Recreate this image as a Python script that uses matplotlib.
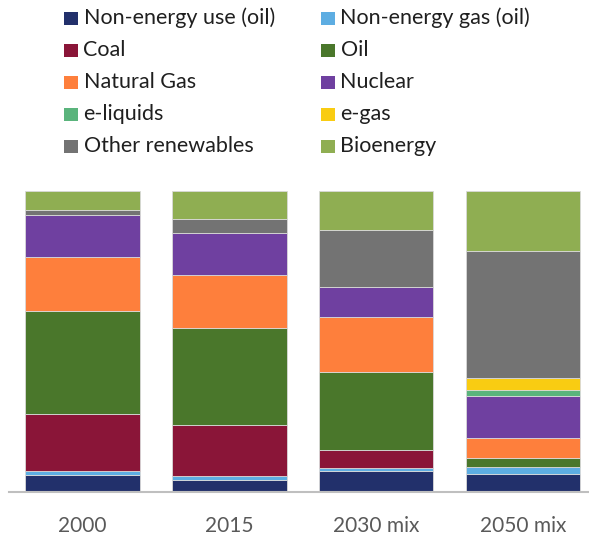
import matplotlib
matplotlib.use("Agg")
import matplotlib.pyplot as plt
from matplotlib.patches import Rectangle
import numpy as np

plt.rcParams['font.family'] = ['Lato', 'DejaVu Sans']

categories = ["2000", "2015", "2030 mix", "2050 mix"]

series_names = [
    "Non-energy use (oil)", "Non-energy gas (oil)", "Coal", "Oil",
    "Natural Gas", "Nuclear", "e-liquids", "e-gas",
    "Other renewables", "Bioenergy",
]

# Share of primary energy supply, % (bottom to top of each stack)
non_energy_oil = [5.8, 4.0, 7.0, 6.0]
non_energy_gas = [1.1, 1.3, 1.1, 2.2]
coal           = [19.2, 16.9, 6.0, 0.0]
oil            = [34.0, 32.1, 25.9, 3.0]
natural_gas    = [18.1, 17.8, 18.1, 6.9]
nuclear        = [14.0, 14.0, 10.1, 13.7]
e_liquids      = [0.0, 0.0, 0.0, 2.0]
e_gas          = [0.0, 0.0, 0.0, 4.2]
other_renew    = [1.7, 4.5, 18.9, 42.1]
bioenergy      = [6.3, 9.3, 13.0, 19.9]

colors = [
    "#22306b", "#5dade2", "#8a1538", "#4a772b",
    "#fe7f3c", "#6f40a0", "#5ab47c", "#f9cc12",
    "#737373", "#8fae52",
]

values = np.array([non_energy_oil, non_energy_gas, coal, oil, natural_gas,
                   nuclear, e_liquids, e_gas, other_renew, bioenergy])
shares = values / values.sum(axis=0) * 100

W, H = 589, 535
fig = plt.figure(figsize=(W / 100, H / 100), dpi=100)
ax = fig.add_axes([9 / W, 43 / H, 580 / W, 301 / H])

x = np.arange(len(categories))
bottom = np.zeros(len(categories))
for s, c in zip(shares, colors):
    ax.bar(x, s, bottom=bottom, width=0.78, color=c,
           edgecolor="#d9d9d9", linewidth=0.6)
    bottom += s

ax.set_xlim(-0.5, 3.449)
ax.set_ylim(0, 100)
ax.set_yticks([])
for side in ("left", "right", "top"):
    ax.spines[side].set_visible(False)
ax.spines["bottom"].set_color("#bfbfbf")
ax.spines["bottom"].set_linewidth(1.5)
ax.set_xticks(x)
ax.set_xticklabels(categories, fontsize=15, color="#595959")
ax.tick_params(axis="x", length=0, pad=17)

# Legend laid out in two columns, row by row
col_x = [64, 321]
row_y = [18, 50, 82, 114, 146]
for i, (name, c) in enumerate(zip(series_names, colors)):
    r, col = divmod(i, 2)
    sx = col_x[col]
    sy = row_y[r]
    fig.patches.append(Rectangle((sx / W, (H - sy - 6.5) / H), 14 / W, 13 / H,
                                 transform=fig.transFigure, facecolor=c,
                                 edgecolor="none"))
    fig.text((sx + 19.5) / W, (H - sy) / H, name, fontsize=15.5,
             color="#1f1f1f", va="center", ha="left")

fig.savefig("out.png", dpi=100)
